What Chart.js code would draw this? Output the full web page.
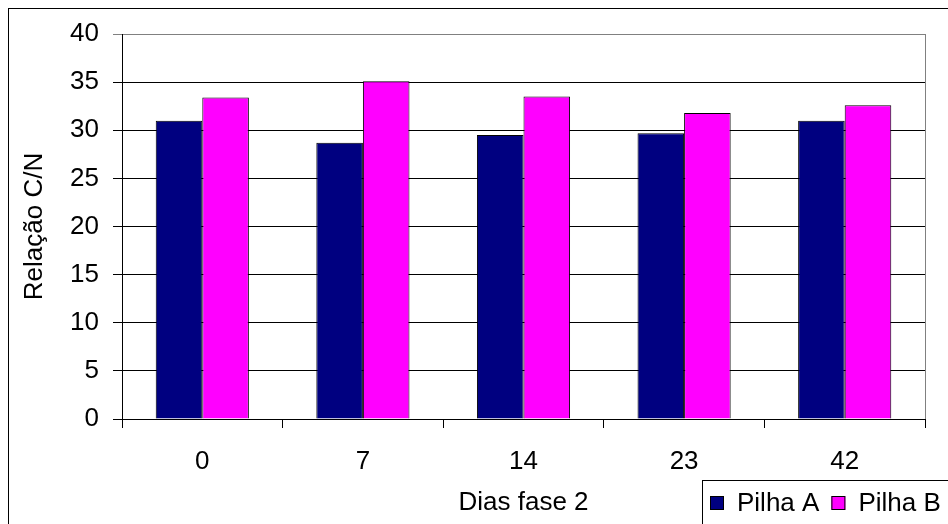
<!DOCTYPE html>
<html>
<head>
<meta charset="utf-8">
<script src="https://cdn.jsdelivr.net/npm/chart.js@4/dist/chart.umd.min.js"></script>
<style>
  body { margin: 0; background: #fff; }
  #wrap { width: 948px; height: 524px; }
</style>
</head>
<body>
<div id="wrap"><canvas id="cn_chart" width="948" height="524"></canvas></div>
<script>
// DATA
const dias = ["0", "7", "14", "23", "42"];
const pilha_a = [31.0, 28.7, 29.5, 29.7, 31.0];
const pilha_b = [33.4, 35.1, 33.5, 31.8, 32.6];
const y_ticks = [0, 5, 10, 15, 20, 25, 30, 35, 40];

const FONT = "'Liberation Sans', Arial, sans-serif";
const FSIZE = 26;

// outer frame + plot border on the right
const framePlugin = {
	id: "frame",
	beforeDraw(chart) {
		const c = chart.ctx;
		c.save();
		c.fillStyle = "#fff";
		c.fillRect(0, 0, chart.width, chart.height);
		c.strokeStyle = "#000";
		c.lineWidth = 1;
		c.strokeRect(8.5, 8.5, chart.width + 10, chart.height + 10);
		c.restore();
	},
	afterDraw(chart) {
		const a = chart.chartArea;
		const c = chart.ctx;
		c.save();
		c.strokeStyle = "#808080";
		c.lineWidth = 1;
		c.beginPath();
		c.moveTo(Math.round(a.right) + 0.5, a.top);
		c.lineTo(Math.round(a.right) + 0.5, a.bottom);
		c.stroke();
		c.restore();
	}
};

// legend box at the bottom right, next to the axis title
const legendPlugin = {
	id: "boxLegend",
	afterDraw(chart) {
		const c = chart.ctx;
		const left = 702, top = 480;
		c.save();
		c.fillStyle = "#fff";
		c.fillRect(left, top, chart.width - left + 5, chart.height - top + 5);
		c.strokeStyle = "#000";
		c.lineWidth = 1;
		c.strokeRect(left + 0.5, top + 0.5, chart.width, chart.height);
		c.font = FSIZE + "px " + FONT;
		c.textBaseline = "middle";
		let x = left + 8;
		const cy = 503;
		chart.data.datasets.forEach(ds => {
			c.fillStyle = ds.backgroundColor;
			c.fillRect(x, cy - 7, 14, 14);
			c.strokeRect(x + 0.5, cy - 7 + 0.5, 13, 13);
			x += 27;
			c.fillStyle = "#000";
			c.fillText(ds.label, x, cy + 1);
			x += c.measureText(ds.label).width + 12;
		});
		c.restore();
	}
};

const ctx = document.getElementById("cn_chart").getContext("2d");

new Chart(ctx, {
	type: "bar",
	data: {
		labels: dias,
		datasets: [{
			label: "Pilha A",
			data: pilha_a,
			backgroundColor: "#000080",
			borderColor: "#000",
			borderWidth: 1
		}, {
			label: "Pilha B",
			data: pilha_b,
			backgroundColor: "#FF00FF",
			borderColor: "#000",
			borderWidth: 1
		}]
	},
	options: {
		responsive: false,
		animation: false,
		layout: { padding: { top: 34, right: 23, left: 0, bottom: 0 } },
		datasets: {
			bar: { categoryPercentage: 0.58, barPercentage: 1.0 }
		},
		plugins: {
			legend: { display: false },
			tooltip: { enabled: false }
		},
		scales: {
			x: {
				grid: {
					offset: true,
					drawOnChartArea: false,
					tickLength: 9,
					color: "#000"
				},
				border: { color: "#000" },
				ticks: {
					color: "#000",
					padding: 18,
					font: { family: FONT, size: FSIZE }
				},
				title: {
					display: true,
					text: "Dias fase 2",
					color: "#000",
					padding: { top: 0, bottom: 6 },
					font: { family: FONT, size: FSIZE }
				},
				afterFit(scale) { scale.height = 105; }
			},
			y: {
				min: 0,
				max: 40,
				afterBuildTicks(scale) {
					scale.ticks = y_ticks.map(v => ({ value: v }));
				},
				grid: {
					tickLength: 9,
					color: c => (c.tick && c.tick.value === 40 ? "#808080" : "#000")
				},
				border: { color: "#000" },
				ticks: {
					color: "#000",
					padding: 14,
					font: { family: FONT, size: FSIZE }
				},
				title: {
					display: true,
					text: "Relação C/N",
					color: "#000",
					padding: { top: 19, bottom: 0 },
					font: { family: FONT, size: FSIZE }
				},
				afterFit(scale) { scale.width = 122; }
			}
		}
	},
	plugins: [framePlugin, legendPlugin]
});
</script>
</body>
</html>
